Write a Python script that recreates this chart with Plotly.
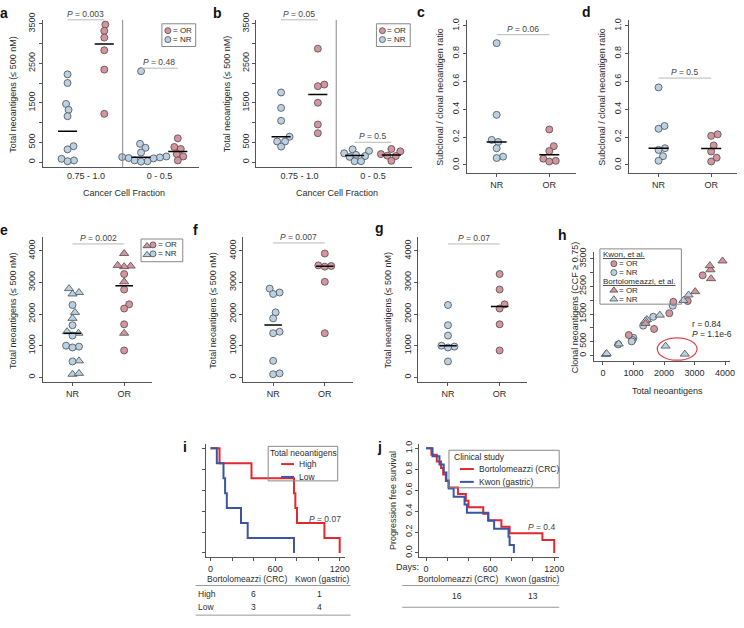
import plotly.graph_objects as go

W, H = 744, 628
FONT = "Liberation Sans, Arial, Helvetica, sans-serif"
TXT = "#2b2b2b"
AXC = "#555555"
OR_FILL = "#D6949F"
NR_FILL = "#B9D1E5"
EDGE = "#4d4d4d"
RED = "#E0282E"
BLUE = "#3B55A2"
PLINE = "#b8b8b8"

# ---------------- data ----------------
# a: total neoantigens split by cancer cell fraction (Kwon)
a_nr_clonal = [2220, 2000, 1470, 1320, 1160, 400, 320, 80, 40, 20]
a_or_clonal = [3480, 3320, 3150, 2830, 2340, 1220]
a_nr_subclonal = [2300, 460, 360, 240, 140, 125, 115, 100, 90, 40, 20, 10]
a_or_subclonal = [600, 380, 330, 200, 140, 40]
# b: same for Bortolomeazzi
b_nr_clonal = [1760, 1370, 1045, 640, 520, 520, 390]
b_or_clonal = [2870, 1960, 1920, 1500, 950, 730]
b_nr_subclonal = [320, 280, 220, 180, 150, 130, 20, 20]
b_or_subclonal = [330, 270, 200, 160, 150, 30]
# c, d: subclonal / clonal ratio
c_nr = [0.875, 0.36, 0.18, 0.165, 0.12, 0.06, 0.05]
c_or = [0.255, 0.135, 0.10, 0.045, 0.03, 0.025]
d_nr = [0.557, 0.28, 0.26, 0.12, 0.108, 0.063, 0.03]
d_or = [0.22, 0.209, 0.14, 0.097, 0.052, 0.025]
# f: Bortolomeazzi total neoantigens (triangles), g: Kwon (circles)
f_nr = [2805, 2682, 2635, 2052, 1863, 1440, 1393, 518, 94, 122]
f_or = [3915, 3520, 3500, 3540, 3021, 1393]
g_nr = [2287, 1647, 1318, 998, 969, 941, 499]
g_or = [3266, 2776, 2306, 2174, 1675, 847]
# h: clonal neoantigens (CCF >= 0.75) for the same patients
f_nr_clonal = [2190, 50, 1990, 340, 1460, 1300, 1250, 420, 40, 70]
f_or_clonal = [3420, 3100, 3250, 2780, 2310, 1160]
g_nr_clonal = [1800, 1400, 1080, 640, 560, 510, 400]
g_or_clonal = [2900, 1970, 1940, 1530, 960, 740]
# i: Kaplan-Meier by total neoantigens
i_high_days = [0, 83, 380, 775, 788, 803, 1058, 1200]
i_high_surv = [1.0, 0.857, 0.714, 0.571, 0.429, 0.286, 0.143, 0.0]
i_low_days = [0, 58, 120, 135, 151, 283, 345, 775]
i_low_surv = [1.0, 0.857, 0.714, 0.571, 0.429, 0.286, 0.143, 0.0]
# j: Kaplan-Meier by clinical study
j_crc_days = [0, 50, 100, 140, 160, 185, 210, 298, 372, 397, 535, 582, 705, 782, 1089, 1200]
j_crc_surv = [1, .9375, .875, .8125, .75, .6875, .625, .5625, .5, .4375, .375, .3125, .25, .1875, .125, 0]
j_gas_days = [0, 60, 125, 165, 190, 212, 258, 360, 382, 582, 637, 772, 782, 822]
j_gas_surv = [1, .923, .846, .769, .692, .615, .538, .462, .385, .308, .231, .154, .077, 0]

ccf_labels = ["0.75 - 1.0", "0 - 0.5"]
resp_labels = ["NR", "OR"]

fig = go.Figure()
shapes, annotations = [], []


def X(p):
    return p / W


def Y(p):
    return 1 - p / H


def names(n):
    return ("x" if n == 1 else f"x{n}"), ("y" if n == 1 else f"y{n}")


def lin_range(v_a, px_a, v_b, px_b, px_lo, px_hi):
    """data range for an axis whose value v_a sits at pixel px_a and v_b at px_b"""
    k = (v_b - v_a) / (px_b - px_a)
    return [v_a + (px_lo - px_a) * k, v_a + (px_hi - px_a) * k]


def add_axes(n, x0, x1, y0, y1, xr, yr, xkw=None, ykw=None):
    xn, yn = names(n)
    base = dict(showgrid=False, zeroline=False, showline=True, linecolor=AXC, linewidth=1,
                ticks="outside", tickcolor=AXC, ticklen=3, tickwidth=1,
                tickfont=dict(family=FONT, size=9, color=TXT), fixedrange=True)
    xa = dict(base, domain=[X(x0), X(x1)], range=xr, anchor=yn)
    ya = dict(base, domain=[Y(y1), Y(y0)], range=yr, anchor=xn, tickangle=-90)
    if xkw:
        xa.update(xkw)
    if ykw:
        ya.update(ykw)
    fig.update_layout({("xaxis" if n == 1 else f"xaxis{n}"): xa,
                       ("yaxis" if n == 1 else f"yaxis{n}"): ya})


def ticks(vals, labels):
    return dict(tickmode="array", tickvals=vals, ticktext=labels)


def ann(x, y, text, size=9, color=TXT, xanchor="center", yanchor="middle", angle=0,
        xref="paper", yref="paper"):
    annotations.append(dict(x=X(x) if xref == "paper" else x, y=Y(y) if yref == "paper" else y,
                            xref=xref, yref=yref, text=text, showarrow=False, borderpad=0,
                            font=dict(family=FONT, size=size, color=color),
                            xanchor=xanchor, yanchor=yanchor, textangle=angle))


def swarm(vals, ppu_y, diam=7.0):
    order = sorted(range(len(vals)), key=lambda i: vals[i])
    cands = [0.0]
    for k in range(1, 80):
        cands += [k * 0.5, -k * 0.5]
    placed, offs = [], [0.0] * len(vals)
    for i in order:
        yy = vals[i] * ppu_y
        xo = 0.0
        for c in cands:
            if all((c - ox) ** 2 + (yy - oy) ** 2 >= (diam * 0.92) ** 2 for oy, ox in placed):
                xo = c
                break
        placed.append((yy, xo))
        offs[i] = xo
    return offs


def point_trace(n, xs, ys, fill, symbol="circle", size=7):
    xn, yn = names(n)
    fig.add_trace(go.Scatter(x=xs, y=ys, xaxis=xn, yaxis=yn, mode="markers", cliponaxis=False,
                             hoverinfo="skip",
                             marker=dict(symbol=symbol, size=size, color=fill,
                                         line=dict(color=EDGE, width=0.8))))


def median_of(v):
    s = sorted(v)
    m = len(s)
    return s[m // 2] if m % 2 else (s[m // 2 - 1] + s[m // 2]) / 2


def group(n, vals, cat, fill, ppu_y, ppu_x, half):
    offs = swarm(vals, ppu_y)
    point_trace(n, [cat + o / ppu_x for o in offs], vals, fill)
    xn, yn = names(n)
    med = median_of(vals)
    shapes.append(dict(type="line", xref=xn, yref=yn, x0=cat - half, x1=cat + half,
                       y0=med, y1=med, line=dict(color="black", width=1.5)))


def pline(n, c0, c1, ypx, text):
    xn, _ = names(n)
    shapes.append(dict(type="line", xref=xn, yref="paper", x0=c0, x1=c1, y0=Y(ypx), y1=Y(ypx),
                       line=dict(color=PLINE, width=1)))
    ann((c0 + c1) / 2, ypx - 6, text, size=8.5, color="#444", xref=xn)


# ---------------- panels a, b ----------------
R1_TOP, R1_BOT = 13, 162          # plot box (pixels)
R1_ZERO, R1_HIGH = 157, 17        # pixel rows of 0 and of the top tick
tick_3500 = ticks(list(range(0, 3501, 500)), ["0", "500", "", "1500", "", "2500", "", "3500"])
for n, (x0, x1), nrc, orc, nrs, ors in [
        (1, (43, 200), a_nr_clonal, a_or_clonal, a_nr_subclonal, a_or_subclonal),
        (2, (258, 415), b_nr_clonal, b_or_clonal, b_nr_subclonal, b_or_subclonal)]:
    ppx = 37.0
    ppy = (R1_ZERO - R1_HIGH) / 3500.0
    add_axes(n, x0, x1, R1_TOP, R1_BOT, [1 - 25 / ppx, 1 + (x1 - x0 - 25) / ppx],
             lin_range(0, R1_ZERO, 3500, R1_HIGH, R1_BOT, R1_TOP),
             xkw=dict(ticks([1.5, 3.5], ccf_labels), ticks=""), ykw=tick_3500)
    group(n, nrc, 1, NR_FILL, ppy, ppx, 0.26)
    group(n, orc, 2, OR_FILL, ppy, ppx, 0.26)
    group(n, nrs, 3, NR_FILL, ppy, ppx, 0.26)
    group(n, ors, 4, OR_FILL, ppy, ppx, 0.26)
    xn, yn = names(n)
    shapes.append(dict(type="line", xref=xn, yref=yn + " domain", x0=2.5, x1=2.5, y0=0, y1=1,
                       line=dict(color="#8a8a8a", width=1)))
    ann((x0 + x1) / 2 + 3, 188, "Cancer Cell Fraction")
    ann(x0 - 30, 88, "Total neoantigens (≤ 500 nM)", angle=-90)

pline(1, 1, 2, 13, "<i>P</i> = 0.003")
pline(1, 3, 4, 62, "<i>P</i> = 0.48")
pline(2, 1, 2, 13, "<i>P</i> = 0.05")
pline(2, 3, 4, 137, "<i>P</i> = 0.5")

# ---------------- panels c, d ----------------
C_ZERO, C_HIGH, C_BOT = 160, 19, 168
tick_ratio = ticks([0, 0.2, 0.4, 0.6, 0.8, 1.0], ["0.0", "0.2", "0.4", "0.6", "0.8", "1.0"])
for n, (x0, x1), nr, orr in [(3, (470, 580), c_nr, c_or), (4, (633, 742), d_nr, d_or)]:
    ppx = 53.0
    ppy = float(C_ZERO - C_HIGH)
    add_axes(n, x0, x1, R1_TOP, C_BOT, [1 - 30 / ppx, 1 + (x1 - x0 - 30) / ppx],
             lin_range(0, C_ZERO, 1, C_HIGH, C_BOT, R1_TOP),
             xkw=ticks([1, 2], resp_labels), ykw=tick_ratio)
    group(n, nr, 1, NR_FILL, ppy, ppx, 0.19)
    group(n, orr, 2, OR_FILL, ppy, ppx, 0.19)
    ann(x0 - 27, 91, "Subclonal / clonal neoantigen ratio", angle=-90)
pline(3, 1, 2, 28, "<i>P</i> = 0.06")
pline(4, 1, 2, 72, "<i>P</i> = 0.5")

# ---------------- panels e, f, g ----------------
tick_4000 = ticks([0, 1000, 2000, 3000, 4000], ["0", "1000", "2000", "3000", "4000"])
R2_TOP, R2_BOT, R2_ZERO, R2_HIGH = 233, 380, 375, 247
ppy4 = (R2_ZERO - R2_HIGH) / 4000.0
ppx2 = 52.0
for n, x0 in [(5, 43), (6, 245), (7, 421)]:
    add_axes(n, x0, x0 + 110, R2_TOP, R2_BOT, [1 - 30 / ppx2, 1 + 80 / ppx2],
             lin_range(0, R2_ZERO, 4000, R2_HIGH, R2_BOT, R2_TOP),
             xkw=ticks([1, 2], resp_labels), ykw=tick_4000)
    ann(x0 - 30, 307, "Total neoantigens (≤ 500 nM)", angle=-90)

# e: combined, triangles = Bortolomeazzi, circles = Kwon
for cat, tri, cir, fill in [(1, f_nr, g_nr, NR_FILL), (2, f_or, g_or, OR_FILL)]:
    allv = list(tri) + list(cir)
    offs = swarm(allv, ppy4)
    xs = [cat + o / ppx2 for o in offs]
    point_trace(5, xs[:len(tri)], tri, fill, symbol="triangle-up", size=8)
    point_trace(5, xs[len(tri):], cir, fill)
    shapes.append(dict(type="line", xref="x5", yref="y5", x0=cat - 0.17, x1=cat + 0.17,
                       y0=median_of(allv), y1=median_of(allv), line=dict(color="black", width=1.5)))
group(6, f_nr, 1, NR_FILL, ppy4, ppx2, 0.17)
group(6, f_or, 2, OR_FILL, ppy4, ppx2, 0.17)
group(7, g_nr, 1, NR_FILL, ppy4, ppx2, 0.17)
group(7, g_or, 2, OR_FILL, ppy4, ppx2, 0.17)
pline(5, 1, 2, 240, "<i>P</i> = 0.002")
pline(6, 1, 2, 239, "<i>P</i> = 0.007")
pline(7, 1, 2, 240, "<i>P</i> = 0.07")

# ---------------- panel h ----------------
add_axes(8, 598, 735, 248, 359, lin_range(0, 607, 4000, 730, 598, 735),
         lin_range(0, 353, 3500, 255, 359, 248),
         xkw=dict(ticks([0, 1000, 2000, 3000, 4000], ["0", "1000", "2000", "3000", "4000"]), tickangle=0),
         ykw=tick_3500)
point_trace(8, g_nr, g_nr_clonal, NR_FILL)
point_trace(8, g_or, g_or_clonal, OR_FILL)
point_trace(8, f_nr, f_nr_clonal, NR_FILL, symbol="triangle-up", size=8)
point_trace(8, f_or, f_or_clonal, OR_FILL, symbol="triangle-up", size=8)
shapes.append(dict(type="circle", xref="x8", yref="y8", x0=1780, x1=3080, y0=-170, y1=640,
                   line=dict(color="#E0464B", width=1.2)))
ann(672, 389, "Total neoantigens")
ann(579, 304, "Clonal neoantigens (CCF ≥ 0.75)", angle=-90)
ann(696, 321, "r = 0.84", size=8.5, xanchor="left")
ann(696, 331, "<i>P</i> = 1.1e-6", size=8.5, xanchor="left")

# ---------------- panels i, j ----------------
km_x = ticks(list(range(0, 1201, 200)), ["0", "", "", "600", "", "", "1200"])
R3_TOP, R3_BOT = 443, 557
km_y = lin_range(0, 553, 1, 447, R3_BOT, R3_TOP)
add_axes(9, 207, 347, R3_TOP, R3_BOT, lin_range(0, 212, 1200, 342, 207, 347), km_y,
         xkw=dict(km_x, tickangle=0), ykw=ticks([0, 0.2, 0.4, 0.6, 0.8, 1.0], [""] * 6))
add_axes(10, 422, 563, R3_TOP, R3_BOT, lin_range(0, 429, 1200, 558, 422, 563), km_y,
         xkw=dict(km_x, tickangle=0), ykw=tick_ratio)
for n, d, s, col in [(9, i_high_days, i_high_surv, RED), (9, i_low_days, i_low_surv, BLUE),
                     (10, j_crc_days, j_crc_surv, RED), (10, j_gas_days, j_gas_surv, BLUE)]:
    xn, yn = names(n)
    fig.add_trace(go.Scatter(x=d, y=s, xaxis=xn, yaxis=yn, mode="lines", hoverinfo="skip",
                             line=dict(color=col, width=2, shape="hv"), cliponaxis=False))
ann(327, 519, "<i>P</i> = 0.07", size=8.5, color="#444")
ann(545, 527, "<i>P</i> = 0.4", size=8.5, color="#444")
ann(395, 500, "Progression free survival", angle=-90)
ann(410, 567, "Days:")

# tables
tbl_line = dict(color="#999999", width=1)
for (x0, x1, y) in [(197, 353, 586), (197, 353, 616), (405, 563, 586), (405, 563, 608)]:
    shapes.append(dict(type="line", xref="paper", yref="paper", x0=X(x0), x1=X(x1), y0=Y(y), y1=Y(y),
                       line=tbl_line))
ann(249, 579, "Bortolomeazzi (CRC)", size=8.5)
ann(324, 579, "Kwon (gastric)", size=8.5)
ann(198, 595, "High", size=8.5, xanchor="left")
ann(198, 608, "Low", size=8.5, xanchor="left")
ann(255, 595, "6", size=8.5)
ann(322, 595, "1", size=8.5)
ann(255, 608, "3", size=8.5)
ann(322, 608, "4", size=8.5)
ann(461, 579, "Bortolomeazzi (CRC)", size=8.5)
ann(536, 579, "Kwon (gastric)", size=8.5)
ann(460, 597, "16", size=8.5)
ann(537, 597, "13", size=8.5)

# ---------------- legends (overlay axis in pixel space) ----------------
fig.update_layout(xaxis11=dict(domain=[0, 1], range=[0, W], visible=False, fixedrange=True, anchor="y11"),
                  yaxis11=dict(domain=[0, 1], range=[H, 0], visible=False, fixedrange=True, anchor="x11"))


def box(x0, y0, x1, y1):
    shapes.append(dict(type="rect", xref="paper", yref="paper", x0=X(x0), x1=X(x1), y0=Y(y1), y1=Y(y0),
                       line=dict(color="#888888", width=1), fillcolor="rgba(0,0,0,0)"))


def lg_marker(x, y, fill, symbol="circle", size=6):
    fig.add_trace(go.Scatter(x=[x], y=[y], xaxis="x11", yaxis="y11", mode="markers", hoverinfo="skip",
                             marker=dict(symbol=symbol, size=size, color=fill,
                                         line=dict(color=EDGE, width=0.8))))


LG = 8  # legend font size
for bx in (163, 379):
    box(bx, 17, bx + 34, 40)
    lg_marker(bx + 6, 24, OR_FILL)
    lg_marker(bx + 6, 33, NR_FILL)
    ann(bx + 10, 24, "= OR", size=LG, xanchor="left")
    ann(bx + 10, 33, "= NR", size=LG, xanchor="left")

box(142, 235, 184, 258)
lg_marker(148, 242, OR_FILL, "triangle-up", 7)
lg_marker(154, 241, OR_FILL)
lg_marker(148, 251, NR_FILL, "triangle-up", 7)
lg_marker(154, 250, NR_FILL)
ann(158, 241, "= OR", size=LG, xanchor="left")
ann(158, 250, "= NR", size=LG, xanchor="left")

box(604, 245, 686, 301)
ann(606, 251, "<u>Kwon, et al.</u>", size=LG, xanchor="left")
lg_marker(618, 260, OR_FILL)
ann(622, 260, "= OR", size=LG, xanchor="left")
lg_marker(618, 269, NR_FILL)
ann(622, 269, "= NR", size=LG, xanchor="left")
ann(606, 278, "<u>Bortolomeazzi, et al.</u>", size=LG, xanchor="left")
lg_marker(618, 287, OR_FILL, "triangle-up", 7)
ann(622, 287, "= OR", size=LG, xanchor="left")
lg_marker(618, 296, NR_FILL, "triangle-up", 7)
ann(622, 296, "= NR", size=LG, xanchor="left")

box(270, 445, 340, 480)
ann(306, 452, "Total neoantigens", size=8.5)
for yy, col, lab in [(463, RED, "High"), (476, BLUE, "Low")]:
    shapes.append(dict(type="line", xref="paper", yref="paper", x0=X(283), x1=X(296), y0=Y(yy), y1=Y(yy),
                       line=dict(color=col, width=2)))
    ann(300, yy, lab, size=8.5, xanchor="left")

box(452, 449, 563, 487)
ann(456, 456, "Clinical study", size=8.5, xanchor="left")
for yy, col, lab in [(468, RED, "Bortolomeazzi (CRC)"), (481, BLUE, "Kwon (gastric)")]:
    shapes.append(dict(type="line", xref="paper", yref="paper", x0=X(463), x1=X(477), y0=Y(yy), y1=Y(yy),
                       line=dict(color=col, width=2)))
    ann(481, yy, lab, size=8.5, xanchor="left")

# panel letters
for t, x, y in [("a", 4, 6), ("b", 219, 6), ("c", 424, 5), ("d", 590, 5), ("e", 4, 226),
                ("f", 197, 226), ("g", 382, 224), ("h", 566, 231), ("i", 186, 446), ("j", 382, 446)]:
    ann(x, y, f"<b>{t}</b>", size=14, color="#111")

fig.update_layout(width=W, height=H, margin=dict(l=0, r=0, t=0, b=0), showlegend=False,
                  paper_bgcolor="white", plot_bgcolor="rgba(0,0,0,0)",
                  font=dict(family=FONT, size=9, color=TXT),
                  shapes=shapes, annotations=annotations)
fig.write_html("out.html", config={"displayModeBar": False},
               post_script="document.body.style.margin='0';document.body.style.padding='0';")
